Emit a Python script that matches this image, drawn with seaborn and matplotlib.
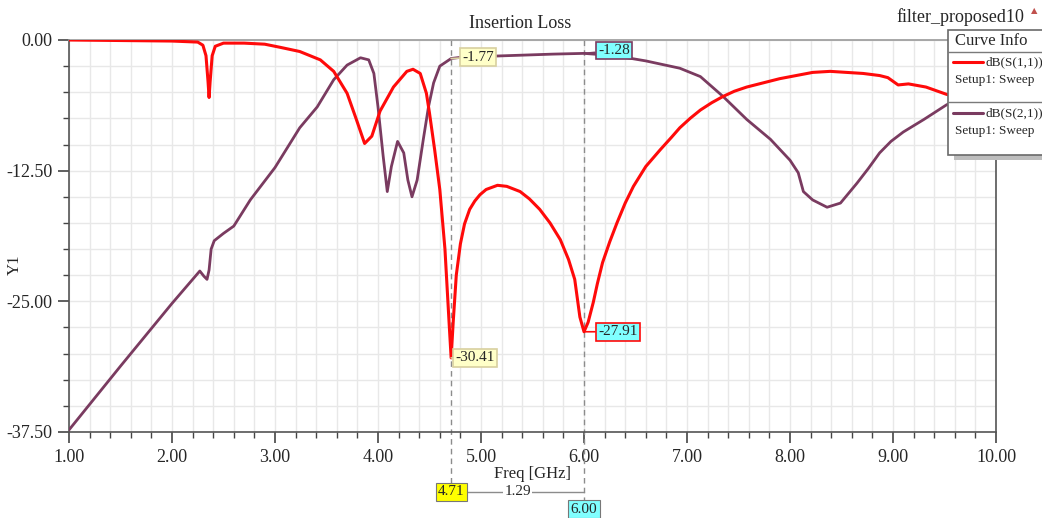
import numpy as np
import pandas as pd
import matplotlib
matplotlib.use("Agg")
import matplotlib.pyplot as plt
from matplotlib.ticker import MultipleLocator, FormatStrFormatter
from matplotlib.lines import Line2D
import matplotlib.patches as mpatches
import seaborn as sns

# ---------------- data ----------------
s11_freq = [1.00, 1.50, 2.00, 2.25, 2.30, 2.33, 2.35, 2.36, 2.37, 2.39, 2.42, 2.50, 2.70,
            2.90, 3.05, 3.24, 3.44, 3.57, 3.70, 3.79, 3.87, 3.94, 4.02, 4.15, 4.28, 4.34,
            4.41, 4.47, 4.50, 4.55, 4.60, 4.65, 4.69, 4.71, 4.73, 4.76, 4.80, 4.84, 4.89,
            4.94, 4.99, 5.05, 5.16, 5.25, 5.38, 5.47, 5.57, 5.67, 5.77, 5.85, 5.91, 5.96,
            6.00, 6.04, 6.09, 6.13, 6.18, 6.25, 6.32, 6.40, 6.48, 6.60, 6.74, 6.85, 6.93,
            7.03, 7.13, 7.24, 7.35, 7.46, 7.58, 7.74, 7.90, 8.06, 8.22, 8.39, 8.71, 8.87,
            8.95, 9.05, 9.15, 9.32, 9.52, 9.75, 10.00]
s11_db = [0.0, -0.05, -0.1, -0.2, -0.5, -1.5, -4.0, -5.5, -4.0, -1.5, -0.6, -0.3, -0.3,
          -0.4, -0.7, -1.1, -1.9, -3.0, -5.1, -7.6, -9.9, -9.2, -6.8, -4.5, -3.0, -2.8,
          -3.2, -5.1, -7.0, -10.5, -14.3, -20.0, -27.0, -30.41, -27.0, -22.5, -19.5, -17.6, -16.2,
          -15.4, -14.8, -14.3, -13.9, -14.0, -14.5, -15.2, -16.2, -17.5, -19.1, -21.0, -22.9, -26.5,
          -27.91, -27.0, -25.1, -23.3, -21.3, -19.3, -17.5, -15.6, -14.0, -12.1, -10.5, -9.3, -8.4,
          -7.5, -6.7, -6.0, -5.4, -4.9, -4.5, -4.1, -3.7, -3.4, -3.1, -3.0, -3.2, -3.4,
          -3.6, -4.3, -4.2, -4.5, -5.2, -5.8, -6.5]

s21_freq = [1.00, 1.50, 2.00, 2.27, 2.31, 2.34, 2.36, 2.38, 2.41, 2.50, 2.60, 2.76, 3.00,
            3.24, 3.41, 3.57, 3.70, 3.83, 3.91, 3.96, 4.00, 4.05, 4.09, 4.13, 4.19, 4.25,
            4.29, 4.33, 4.38, 4.44, 4.49, 4.54, 4.60, 4.71, 4.85, 5.10, 5.40, 5.70, 6.00,
            6.30, 6.60, 6.93, 7.13, 7.35, 7.58, 7.81, 8.00, 8.08, 8.13, 8.22, 8.36, 8.49,
            8.65, 8.76, 8.87, 8.98, 9.10, 9.30, 9.52, 9.75, 10.00]
s21_db = [-37.3, -31.2, -25.2, -22.1, -22.6, -22.9, -22.0, -20.0, -19.2, -18.5, -17.8, -15.3, -12.2,
          -8.4, -6.4, -3.8, -2.4, -1.7, -1.9, -3.2, -6.4, -11.1, -14.5, -12.1, -9.7, -10.8,
          -13.4, -15.0, -13.4, -9.5, -6.4, -4.1, -2.5, -1.77, -1.6, -1.55, -1.45, -1.35, -1.28,
          -1.5, -2.0, -2.7, -3.5, -5.4, -7.6, -9.5, -11.5, -12.7, -14.5, -15.3, -16.0, -15.6,
          -13.7, -12.3, -10.8, -9.7, -8.8, -7.6, -6.2, -5.2, -4.2]

series_names = ["dB(S(1,1))", "dB(S(2,1))"]
series_setup = ["Setup1: Sweep", "Setup1: Sweep"]

# markers: (freq, value, label)
marker_freq = [4.71, 4.71, 6.00, 6.00]
marker_val = [-1.77, -30.41, -1.28, -27.91]
marker_text = ["-1.77", "-30.41", "-1.28", "-27.91"]

delta_freq = [4.71, 6.00]
delta_text = ["4.71", "6.00"]
delta_value_text = "1.29"

x_ticks = [1, 2, 3, 4, 5, 6, 7, 8, 9, 10]
y_ticks = [0.0, -12.5, -25.0, -37.5]

title_text = "Insertion Loss"
design_text = "filter_proposed10"

# ---------------- style ----------------
sns.set_theme(style="white")
plt.rcParams['font.family'] = ['Liberation Serif', 'DejaVu Sans']

W, H = 1042, 518
fig = plt.figure(figsize=(W / 100, H / 100), dpi=100)

def fx(px):
    return px / W

def fy(py):
    return 1 - py / H

ax_l, ax_r, ax_t, ax_b = 69, 996, 40, 432
ax = fig.add_axes([fx(ax_l), fy(ax_b), (ax_r - ax_l) / W, (ax_b - ax_t) / H])

red = "#ff0a0a"
purple = "#7a3b60"

df11 = pd.DataFrame({"freq": s11_freq, "db": s11_db})
df21 = pd.DataFrame({"freq": s21_freq, "db": s21_db})
sns.lineplot(data=df11, x="freq", y="db", ax=ax, color=red, lw=2.2, sort=False,
             estimator=None, zorder=4)
sns.lineplot(data=df21, x="freq", y="db", ax=ax, color=purple, lw=2.0, sort=False,
             estimator=None, zorder=3)

ax.set_xlim(1, 10)
ax.set_ylim(-37.5, 0)
ax.set_xticks(x_ticks)
ax.set_yticks(y_ticks)
ax.xaxis.set_major_formatter(FormatStrFormatter("%.2f"))
ax.yaxis.set_major_formatter(FormatStrFormatter("%.2f"))
ax.xaxis.set_minor_locator(MultipleLocator(0.2))
ax.yaxis.set_minor_locator(MultipleLocator(2.5))
ax.grid(which="both", color="#e8e8e8", lw=1.0, zorder=0)
ax.set_axisbelow(True)
ax.tick_params(which="major", direction="out", length=8, width=1.2, color="#444",
               labelsize=13, pad=4, bottom=True, left=True)
ax.tick_params(which="minor", direction="out", length=4, width=1.0, color="#444",
               bottom=True, left=True)
for s in ax.spines.values():
    s.set_color("#555555")
    s.set_linewidth(1.2)
ax.spines["top"].set_color("#9a9a9a")

ax.set_xlabel("Freq [GHz]", fontsize=12, labelpad=0)
ax.set_ylabel("")
fig.text(fx(15), fy(265), "Y1", rotation=90, ha="center", va="center", fontsize=12)

fig.text(fx(520), fy(23), title_text, ha="center", va="center", fontsize=13)
fig.text(fx(1024), fy(17), design_text, ha="right", va="center", fontsize=13)
fig.text(fx(1034), fy(11), "\u25B2", ha="center", va="center", fontsize=6,
         color="#c0504d", family="DejaVu Sans")

# --------------- delta markers ---------------
trans = ax.get_xaxis_transform()
ext = [-0.13, -0.175]
for f, e in zip(delta_freq, ext):
    ax.plot([f, f], [1, e], transform=trans, color="#8c8c8c", lw=1.0, ls=(0, (4, 3)),
            clip_on=False, zorder=2)
ybox = [-0.153, -0.197]
box_fc = ["#ffff00", "#80ffff"]
ax.plot([delta_freq[0], delta_freq[1]], [ybox[0], ybox[0]], transform=trans,
        color="#8c8c8c", lw=1.0, clip_on=False)
ax.text(sum(delta_freq) / 2, ybox[0], delta_value_text, transform=trans, ha="center",
        va="center", fontsize=11, bbox=dict(boxstyle="square,pad=0.05", fc="white", ec="none"))
for f, yb, t, fc in zip(delta_freq, ybox, delta_text, box_fc):
    ax.text(f, yb, t, transform=trans, ha="center", va="center", fontsize=11,
            bbox=dict(boxstyle="square,pad=0.15", fc=fc, ec="#777777", lw=0.8))

# --------------- point markers ---------------
mk_fc = ["#ffffc8", "#ffffc8", "#80ffff", "#80ffff"]
mk_ec = ["#d8d0a0", "#d8d0a0", purple, red]
mk_off = [(8, 1), (3, 0), (10, 2), (10, 0)]
for f, v, t, fc, ec, off in zip(marker_freq, marker_val, marker_text, mk_fc, mk_ec, mk_off):
    ax.annotate(t, xy=(f, v), xytext=off, textcoords="offset points", ha="left",
                va="center", fontsize=11, zorder=6,
                bbox=dict(boxstyle="square,pad=0.15", fc=fc, ec=ec, lw=1.2),
                arrowprops=dict(arrowstyle="-", color=ec, lw=1.2, shrinkA=0, shrinkB=0))

# --------------- legend box ---------------
lg_l, lg_t, lg_b = 948, 30, 155
shadow = mpatches.Rectangle((fx(lg_l + 6), fy(lg_b + 5)), fx(1100 - lg_l), (lg_b - lg_t) / H,
                            transform=fig.transFigure, fc="#bdbdbd", ec="none", zorder=9)
fig.patches.append(shadow)
box = mpatches.Rectangle((fx(lg_l), fy(lg_b)), fx(1100 - lg_l), (lg_b - lg_t) / H,
                         transform=fig.transFigure, fc="white", ec="#6a6a6a", lw=1.2, zorder=10)
fig.patches.append(box)
fig.text(fx(955), fy(41), "Curve Info", ha="left", va="center", fontsize=12, zorder=11)
for yy in [52, 102]:
    fig.lines.append(Line2D([fx(lg_l), fx(1042)], [fy(yy), fy(yy)], transform=fig.transFigure,
                            color="#7a7a7a", lw=1.0, zorder=11))
for y0, c, name, setup in zip([62, 113], [red, purple], series_names, series_setup):
    fig.lines.append(Line2D([fx(953), fx(983)], [fy(y0), fy(y0)], transform=fig.transFigure,
                            color=c, lw=2.2, zorder=11))
    fig.text(fx(986), fy(y0), name, ha="left", va="center", fontsize=9.5, zorder=11)
    fig.text(fx(955), fy(y0 + 18), setup, ha="left", va="center", fontsize=9.5, zorder=11)

fig.savefig("out.png", dpi=100)
